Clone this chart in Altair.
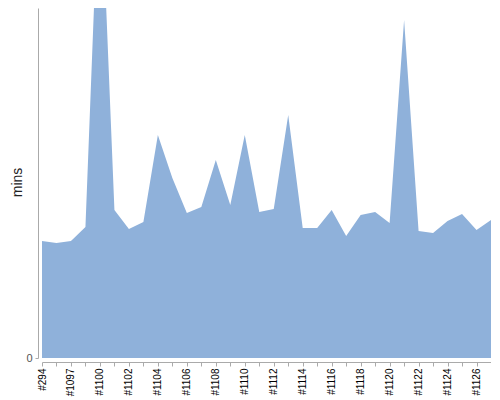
import json
import altair as alt
import pandas as pd

builds = ["#294", "#1096", "#1097", "#1099"] + ["#%d" % n for n in range(1100, 1128)]
mins = [11.7, 11.5, 11.7, 13.1, 50.4, 14.8, 12.9, 13.6, 22.3, 18.0,
        14.5, 15.1, 19.8, 15.3, 22.3, 14.6, 14.9, 24.3, 13.0, 13.0,
        14.8, 12.2, 14.3, 14.6, 13.5, 33.8, 12.7, 12.5, 13.7, 14.4,
        12.8, 13.8]

df = pd.DataFrame({"build": builds, "mins": mins})
shown = builds[::2]
label_expr = "indexof(%s, datum.value) >= 0 ? datum.label : ''" % json.dumps(shown)

chart = alt.Chart(df).mark_area(color="#8fb1da", clip=True, interpolate="linear").encode(
    x=alt.X("build:O", sort=None, title=None,
            scale=alt.Scale(padding=0),
            axis=alt.Axis(labelAngle=270, labelAlign="right", labelBaseline="middle",
                          labelFont="Liberation Sans", labelFontSize=10, labelColor="#000",
                          labelExpr=label_expr, labelOverlap=False,
                          tickSize=4, tickColor="#aaa", domainColor="#aaa",
                          labelPadding=2, offset=4, grid=False)),
    y=alt.Y("mins:Q", title="mins",
            scale=alt.Scale(domain=[0, 35], nice=False),
            axis=alt.Axis(values=[0], grid=False, offset=4, tickSize=3,
                          tickColor="#aaa", domainColor="#aaa",
                          labelFont="Liberation Sans", labelFontSize=11, labelColor="#555",
                          labelPadding=3,
                          titleFont="Liberation Sans", titleFontSize=14,
                          titleFontWeight="normal", titleColor="#222",
                          titleX=-14, titleY=174)),
).properties(
    width=449, height=350,
    autosize=alt.AutoSizeParams(type="none"),
    padding={"left": 34, "top": 0, "right": 0, "bottom": 42},
).configure_view(stroke=None)

chart.save("out.html", embed_options={"renderer": "svg", "actions": False})
